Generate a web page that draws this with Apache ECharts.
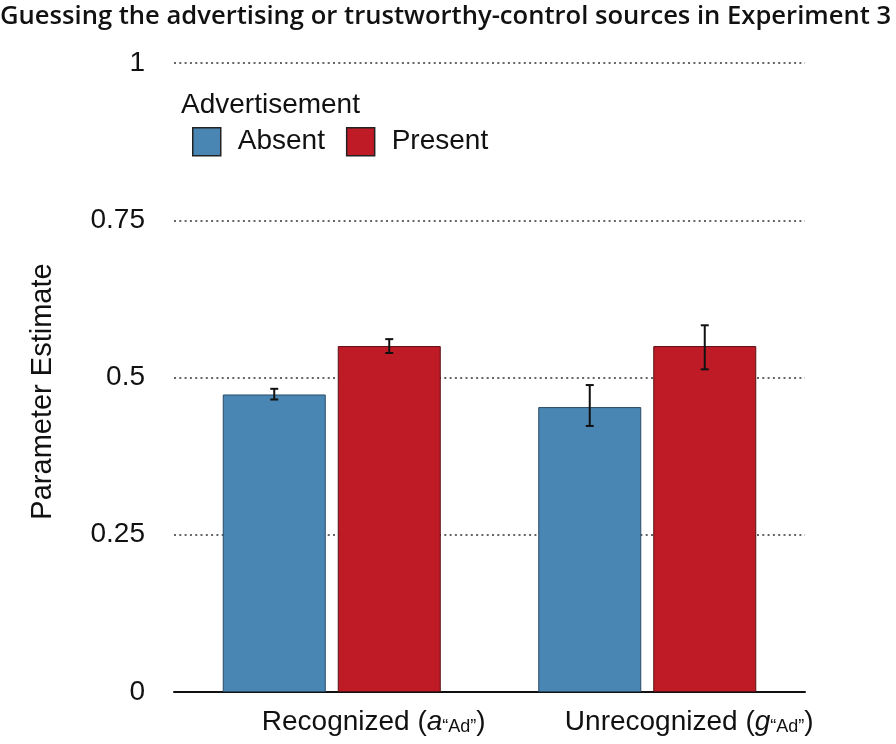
<!DOCTYPE html>
<html><head><meta charset="utf-8">
<script src="https://cdn.jsdelivr.net/npm/echarts@6/dist/echarts.min.js"></script>
<style>html,body{margin:0;padding:0;background:#fff}#c{width:896px;height:744px}</style>
</head><body><div id="c"></div>
<script>
const categories = ['Recognized', 'Unrecognized'];
const seriesNames = ['Absent', 'Present'];
const absentValues = [0.473, 0.453];
const presentValues = [0.550, 0.550];
const absentLow = [0.465, 0.423];
const absentHigh = [0.482, 0.488];
const presentLow = [0.539, 0.513];
const presentHigh = [0.561, 0.583];
const yTicks = [0, 0.25, 0.5, 0.75, 1];

const chart = echarts.init(document.getElementById('c'));
const FONT = '"Liberation Sans", Arial, sans-serif';
const colors = ['#4a86b4', '#be1b27'];
const BAR_W = 103, BAR_GAP = 12;

function errData(lows, highs) {
  return categories.map((c, i) => [i, lows[i], highs[i]]);
}
function errRender(offset) {
  return function (params, api) {
    const i = api.value(0);
    const lo = api.coord([i, api.value(1)]);
    const hi = api.coord([i, api.value(2)]);
    const x = lo[0] + offset;
    const cap = 4;
    const st = { stroke: '#111', lineWidth: 2 };
    return {
      type: 'group',
      children: [
        { type: 'line', shape: { x1: x, y1: lo[1], x2: x, y2: hi[1] }, style: st },
        { type: 'line', shape: { x1: x - cap, y1: lo[1], x2: x + cap, y2: lo[1] }, style: st },
        { type: 'line', shape: { x1: x - cap, y1: hi[1], x2: x + cap, y2: hi[1] }, style: st }
      ]
    };
  };
}
const off = (BAR_W + BAR_GAP) / 2;

chart.setOption({
  animation: false,
  title: [
    { text: 'Guessing the advertising or trustworthy-control sources in Experiment 3', left: 0, top: 0, padding: [4, 0, 0, 0],
      textStyle: { fontFamily: '"Open Sans", sans-serif', fontWeight: 600, fontSize: 25.6, color: '#111' } },
    { text: 'Advertisement', left: 176, top: 86,
      textStyle: { fontFamily: FONT, fontWeight: 'normal', fontSize: 28, color: '#111' } }
  ],
  legend: {
    data: seriesNames, left: 192, top: 127, padding: 0, itemWidth: 28, itemHeight: 28, itemGap: 21,
    icon: 'rect',
    itemStyle: { borderColor: '#222', borderWidth: 1.5 },
    textStyle: { fontFamily: FONT, fontSize: 28, color: '#111', padding: [3, 0, 0, 12] }
  },
  grid: { left: 174, right: 91, top: 63, bottom: 52, containLabel: false },
  xAxis: {
    type: 'category', data: categories,
    axisLine: { lineStyle: { color: '#111', width: 2 } },
    axisTick: { show: false },
    axisLabel: {
      interval: 0, margin: 16, padding: [0, 0, 0, 84],
      formatter: function (v) {
        const sym = v === 'Recognized' ? 'a' : 'g';
        return v + ' (' + '{it|' + sym + '}{sub|“Ad”}' + ')';
      },
      fontFamily: FONT, fontSize: 28, color: '#111',
      rich: {
        it: { fontFamily: FONT, fontSize: 28, fontStyle: 'italic', color: '#111' },
        sub: { fontFamily: FONT, fontSize: 18, color: '#111', verticalAlign: 'bottom', padding: [10, 0, 0, 0] }
      }
    }
  },
  yAxis: {
    type: 'value', min: 0, max: 1, interval: 0.25,
    name: 'Parameter Estimate', nameLocation: 'middle', nameGap: 117, nameRotate: 90,
    nameTextStyle: { fontFamily: FONT, fontSize: 29, color: '#111', padding: [0, 28, 0, 0] },
    axisLine: { show: false }, axisTick: { show: false },
    axisLabel: { margin: 29, fontFamily: FONT, fontSize: 28, color: '#111',
      formatter: v => yTicks.indexOf(v) >= 0 ? String(v) : '' },
    splitLine: { lineStyle: { color: '#333', width: 1.5, type: [2, 3.3] } }
  },
  series: [
    { name: 'Absent', type: 'bar', data: absentValues, barWidth: BAR_W, barGap: (BAR_GAP / BAR_W * 100) + '%',
      itemStyle: { color: colors[0], borderColor: '#2a4a66', borderWidth: 1 }, z: 2 },
    { name: 'Present', type: 'bar', data: presentValues, barWidth: BAR_W,
      itemStyle: { color: colors[1], borderColor: '#5a1015', borderWidth: 1 }, z: 2 },
    { type: 'custom', data: errData(absentLow, absentHigh), renderItem: errRender(-off), z: 5, silent: true,
      encode: { x: 0, y: [1, 2] } },
    { type: 'custom', data: errData(presentLow, presentHigh), renderItem: errRender(off), z: 5, silent: true,
      encode: { x: 0, y: [1, 2] } }
  ]
});
</script></body></html>
